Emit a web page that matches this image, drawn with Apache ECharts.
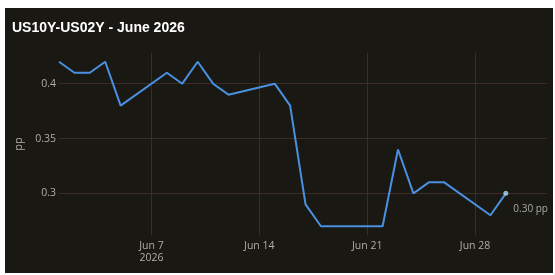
<!DOCTYPE html>
<html>
<head>
<meta charset="utf-8">
<script src="https://cdn.jsdelivr.net/npm/echarts@6/dist/echarts.min.js"></script>
<style>
  html, body { margin: 0; padding: 0; background: #fff; }
  #chart {
    position: absolute;
    left: 5px;
    top: 8px;
    width: 548px;
    height: 265px;
    background: #1a1812;
  }
</style>
</head>
<body>
<div id="chart"></div>
<script>
// trading days of June 2026 and the spread (pp)
const dates = [
  '2026-06-01', '2026-06-02', '2026-06-03', '2026-06-04', '2026-06-05',
  '2026-06-08', '2026-06-09', '2026-06-10', '2026-06-11', '2026-06-12',
  '2026-06-15', '2026-06-16', '2026-06-17', '2026-06-18',
  '2026-06-22', '2026-06-23', '2026-06-24', '2026-06-25', '2026-06-26',
  '2026-06-29', '2026-06-30'
];
const spread = [
  0.42, 0.41, 0.41, 0.42, 0.38,
  0.41, 0.40, 0.42, 0.40, 0.39,
  0.40, 0.38, 0.29, 0.27,
  0.27, 0.34, 0.30, 0.31, 0.31,
  0.28, 0.30
];
const xTickDates = ['2026-06-07', '2026-06-14', '2026-06-21', '2026-06-28'];
const xTickLabels = ['Jun 7\n2026', 'Jun 14', 'Jun 21', 'Jun 28'];
const yTicks = [0.3, 0.35, 0.4];

const DAY = 86400000;
const ts = d => Date.parse(d + 'T00:00:00Z');

// x axis as plain numbers (ms), so custom tick values can be used
const xMin = ts('2026-06-01');
const xMax = xMin + 31.67 * DAY;
const xTicks = xTickDates.map(ts);

const lineData = dates.map((d, i) => [ts(d), spread[i]]);
const last = lineData[lineData.length - 1];

const chart = echarts.init(document.getElementById('chart'));

const option = {
  backgroundColor: '#1a1812',
  animation: false,
  title: {
    text: 'US10Y-US02Y - June 2026',
    left: 2,
    top: 8,
    textStyle: {
      color: '#ffffff',
      fontFamily: 'Liberation Sans',
      fontWeight: 'bold',
      fontSize: 14
    }
  },
  grid: {
    left: 54,
    right: 6,
    top: 45,
    bottom: 38
  },
  xAxis: {
    type: 'value',
    min: xMin,
    max: xMax,
    axisLine: { show: false },
    axisTick: { show: false, customValues: xTicks },
    axisLabel: {
      customValues: xTicks,
      color: '#b0aca6',
      fontFamily: 'Open Sans',
      fontSize: 10.5,
      lineHeight: 12,
      margin: 5,
      formatter: value => xTickLabels[xTicks.indexOf(value)] || ''
    },
    splitLine: { show: true, lineStyle: { color: '#3b2d26', width: 1 } }
  },
  yAxis: {
    type: 'value',
    min: 0.262,
    max: 0.428,
    name: 'pp',
    nameLocation: 'middle',
    nameGap: 21,
    nameTextStyle: { color: '#b0aca6', fontFamily: 'Open Sans', fontSize: 11 },
    axisLine: { show: false },
    axisTick: { show: false, customValues: yTicks },
    axisLabel: {
      customValues: yTicks,
      color: '#b0aca6',
      fontFamily: 'Open Sans',
      fontSize: 10.5,
      margin: 3
    },
    splitLine: { show: true, lineStyle: { color: '#3b2d26', width: 1 } }
  },
  series: [
    {
      type: 'line',
      data: lineData,
      showSymbol: false,
      lineStyle: { color: '#4a90e2', width: 2 },
      z: 2
    },
    {
      type: 'scatter',
      data: [last],
      symbol: 'circle',
      symbolSize: 5,
      itemStyle: { color: '#a8d8f0' },
      label: {
        show: true,
        position: 'right',
        distance: 5,
        offset: [0, 16],
        formatter: p => p.value[1].toFixed(2) + ' pp',
        color: '#c8ccd0',
        fontFamily: 'Open Sans',
        fontSize: 10
      },
      z: 3
    }
  ]
};

chart.setOption(option);
</script>
</body>
</html>
